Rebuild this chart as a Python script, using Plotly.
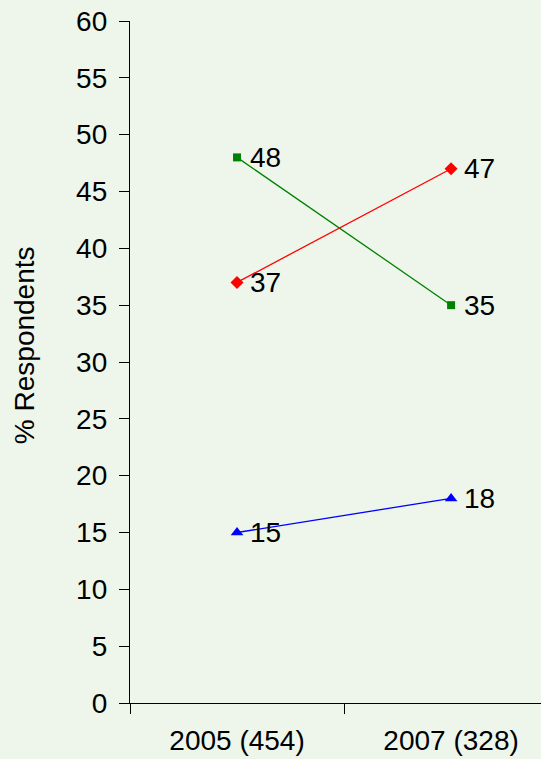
import plotly.graph_objects as go

categories = ["2005 (454)", "2007 (328)"]
series_green = [48, 35]
series_red = [37, 47]
series_blue = [15, 18]
y_ticks = list(range(0, 61, 5))

BG = "#EEF6EC"
FONT = "Arial, Liberation Sans, sans-serif"
FS = 28

fig = go.Figure()

def add(vals, color, symbol, size):
    fig.add_trace(go.Scatter(
        x=categories, y=vals, mode="lines+markers",
        line=dict(color=color, width=1.3),
        marker=dict(color=color, symbol=symbol, size=size),
        cliponaxis=False, showlegend=False, hoverinfo="skip"))
    for c, v in zip(categories, vals):
        fig.add_annotation(
            x=c, y=v, text=str(v), showarrow=False, xanchor="left",
            yanchor="middle", xshift=11,
            font=dict(family=FONT, size=FS, color="black"))

add(series_green, "#008000", "square", 8)
add(series_red, "#FF0000", "diamond", 10)
add(series_blue, "#0000FF", "triangle-up", 11)

fig.update_layout(
    width=541, height=759, autosize=False,
    paper_bgcolor=BG, plot_bgcolor=BG,
    margin=dict(l=130, r=0, t=21, b=56),
    font=dict(family=FONT, size=FS, color="black"),
    showlegend=False,
)
fig.update_xaxes(
    type="category", range=[-0.5, 1.42], tickson="boundaries",
    ticks="outside", ticklen=10, tickcolor="black", tickwidth=1.3,
    showline=True, linecolor="black", linewidth=1.3,
    showgrid=False, zeroline=False, ticklabelstandoff=12,
    tickfont=dict(family=FONT, size=FS, color="black"),
)
fig.update_yaxes(
    range=[0, 60], tickvals=y_ticks, ticktext=[str(t) for t in y_ticks],
    ticks="outside", ticklen=10, tickcolor="black", tickwidth=1.3,
    showline=True, linecolor="black", linewidth=1.3,
    showgrid=False, zeroline=False, ticklabelstandoff=6,
    tickfont=dict(family=FONT, size=FS, color="black"),
)
fig.add_annotation(
    text="% Respondents", textangle=-90, xref="paper", yref="paper",
    x=-0.255, y=0.525, xanchor="center", yanchor="middle", showarrow=False,
    font=dict(family=FONT, size=FS, color="black"))

fig.write_html(
    "out.html",
    config={"displayModeBar": False},
    post_script="document.body.style.margin='0';document.body.style.overflow='hidden';",
)
